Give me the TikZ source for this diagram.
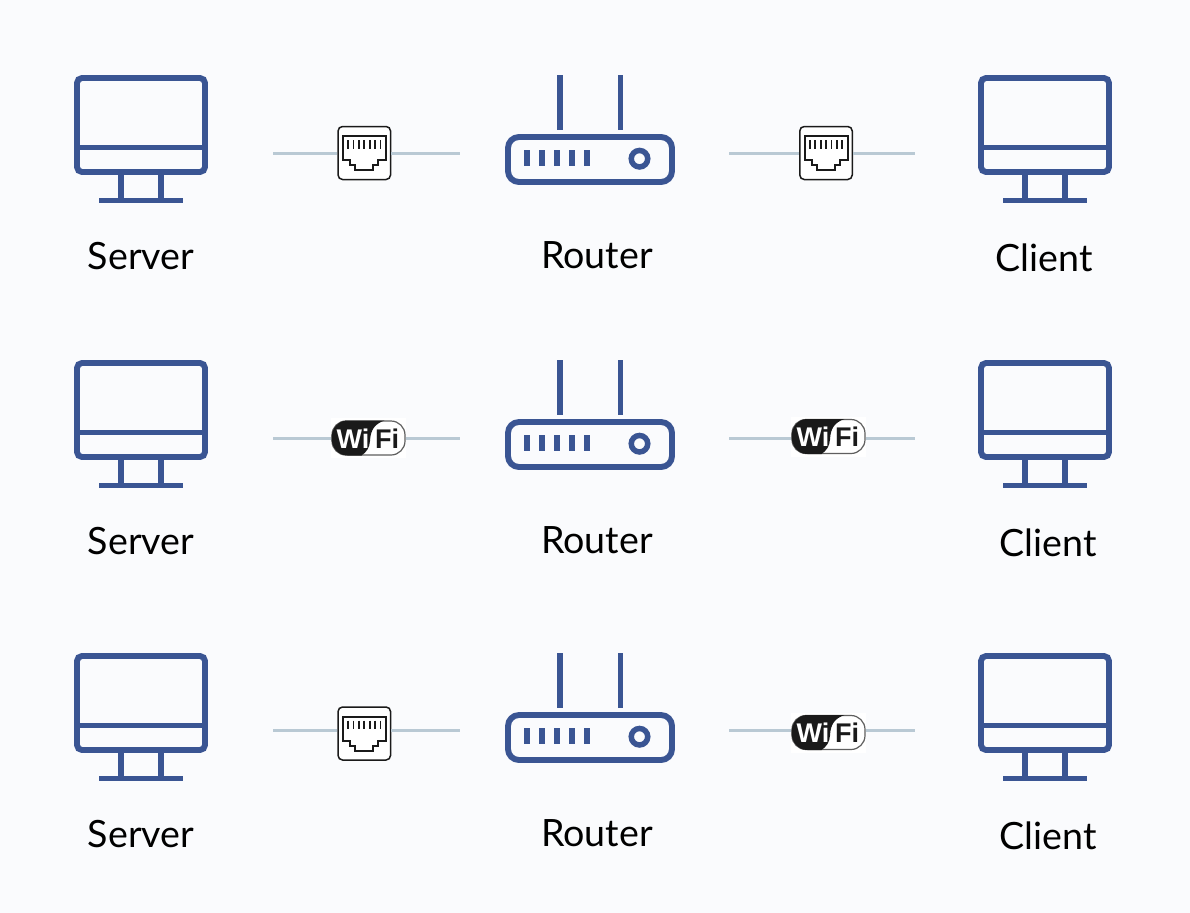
\documentclass[tikz,border=0pt]{standalone}
\usepackage{fontspec}
\setmainfont{Lato}
\newfontfamily\wififont{Liberation Sans}[BoldFont={Liberation Sans Bold}]
\definecolor{bgc}{HTML}{FAFBFD}
\definecolor{iconc}{HTML}{3A5593}
\definecolor{linkc}{HTML}{B9C9D4}
\definecolor{inkc}{HTML}{1A1A1A}
\tikzset{
  x=1bp,y=-1bp,
  iconline/.style={draw=iconc,line width=5.9bp},
  linkline/.style={draw=linkc,line width=3bp},
  lbl/.style={anchor=base,font=\fontsize{37.6bp}{40bp}\selectfont,text=black,inner sep=0pt},
  ethnode/.style={draw=inkc,fill=white,line width=1.5bp,rounded corners=4.5bp,minimum width=52.5bp,minimum height=53bp,inner sep=0pt},
  wifinode/.style={fill=white,minimum width=75bp,minimum height=40bp,inner sep=0pt},
  wifitext/.style={font=\wififont\bfseries\fontsize{27bp}{27bp}\selectfont,inner sep=0pt,anchor=base},
  monitor/.pic={
    \draw[iconline,rounded corners=5bp] (-64,-59) rectangle (64,35);
    \draw[iconline] (-64,10.5) -- (64,10.5);
    \draw[iconline,line width=5.4bp] (-20,35) -- (-20,63.5) (20,35) -- (20,63.5);
    \draw[iconline] (-42,63.5) -- (42,63.5);
  },
  router/.pic={
    \draw[iconline,rounded corners=11bp] (508,137) rectangle (672,182);
    \draw[iconline] (560,75) -- (560,129.5) (620.5,75) -- (620.5,129.5);
    \foreach \lx in {526.7,541.7,556.7,571.7,587}{\draw[iconline] (\lx,150) -- (\lx,166);}
    \draw[iconline,line width=5.5bp] (639.5,158.7) circle[radius=8.25bp];
  },
  ethicon/.pic={
    \draw[inkc,line width=2bp,line join=miter,fill=white]
      (-21.3,-17) -- (21.7,-17) -- (21.7,7) -- (14,7) -- (14,12) -- (9,12) -- (9,17) -- (-9,17) -- (-9,12) -- (-14,12) -- (-14,7) -- (-21.3,7) -- cycle;
    \foreach \bx in {-16.2,-10.8,-5.4,0,5.4,10.8,16.2}{\draw[inkc,line width=1.8bp] (\bx,-13) -- (\bx,-4.5);}
  },
  wifibadge/.pic={
    \draw[inkc!70,line width=1.2bp,fill=white,rounded corners=14bp] (-36.5,-17) rectangle (36.5,17);
    \fill[inkc] (16,-17.5) -- (-21,-17.5) .. controls (-30,-17.5) and (-37,-10) .. (-37,0)
       .. controls (-37,10) and (-30,17.5) .. (-21,17.5) -- (-7,17.5)
       .. controls (-2,14) and (1,10) .. (1.5,3)
       .. controls (2,-8) and (6,-14) .. (16,-17.5) -- cycle;
  },
}
\begin{document}
\begin{tikzpicture}
\useasboundingbox[fill=bgc] (0,0) rectangle (1190,913);
\foreach \r/\dy/\ldy/\cdx/\lk/\rk/\ladj/\radj in {1/0/0/0/eth/eth/0/0,2/285/285/4/wifi/wifi/0/-1.5,3/578/577.5/4/eth/wifi/2.5/1.5}{
  % monitors and router
  \pic at (141,{137+\dy}) {monitor};
  \pic at (1045,{137+\dy}) {monitor};
  \begin{scope}[yshift={-\dy bp}]
    \pic {router};
  \end{scope}
  % labels
  \node[lbl] (server\r) at (141,{269+\dy}) {Server};
  \node[lbl] (router\r) at (597,{268.7+\dy}) {Router};
  \node[lbl] (client\r) at ({1044+\cdx},{271.7+\dy}) {Client};
  % free ends of the links
  \coordinate (la\r) at (273,{153+\ldy});
  \coordinate (lb\r) at (460,{153+\ldy});
  \coordinate (ra\r) at (729,{153+\ldy});
  \coordinate (rb\r) at (915,{153+\ldy});
  % left link
  \ifnum\pdfstrcmp{\lk}{eth}=0
    \node[ethnode] (lm\r) at (364.3,{153+\dy+\ladj}) {};
    \pic at (lm\r) {ethicon};
  \else
    \node[wifinode] (lm\r) at (368.5,{153+\dy+\ladj}) {};
    \pic at (lm\r) {wifibadge};
    \node[wifitext,text=white] at (353,{163+\dy+\ladj}) {Wi};
    \node[wifitext,text=inkc] at (387,{163+\dy+\ladj}) {Fi};
  \fi
  % right link
  \ifnum\pdfstrcmp{\rk}{eth}=0
    \node[ethnode] (rm\r) at (826,{153+\dy+\radj}) {};
    \pic at (rm\r) {ethicon};
  \else
    \node[wifinode] (rm\r) at (828.5,{153+\dy+\radj}) {};
    \pic at (rm\r) {wifibadge};
    \node[wifitext,text=white] at (813,{163+\dy+\radj}) {Wi};
    \node[wifitext,text=inkc] at (847,{163+\dy+\radj}) {Fi};
  \fi
  \draw[linkline] (la\r) -- (la\r -| lm\r.west);
  \draw[linkline] (lb\r -| lm\r.east) -- (lb\r);
  \draw[linkline] (ra\r) -- (ra\r -| rm\r.west);
  \draw[linkline] (rb\r -| rm\r.east) -- (rb\r);
}
\end{tikzpicture}
\end{document}
